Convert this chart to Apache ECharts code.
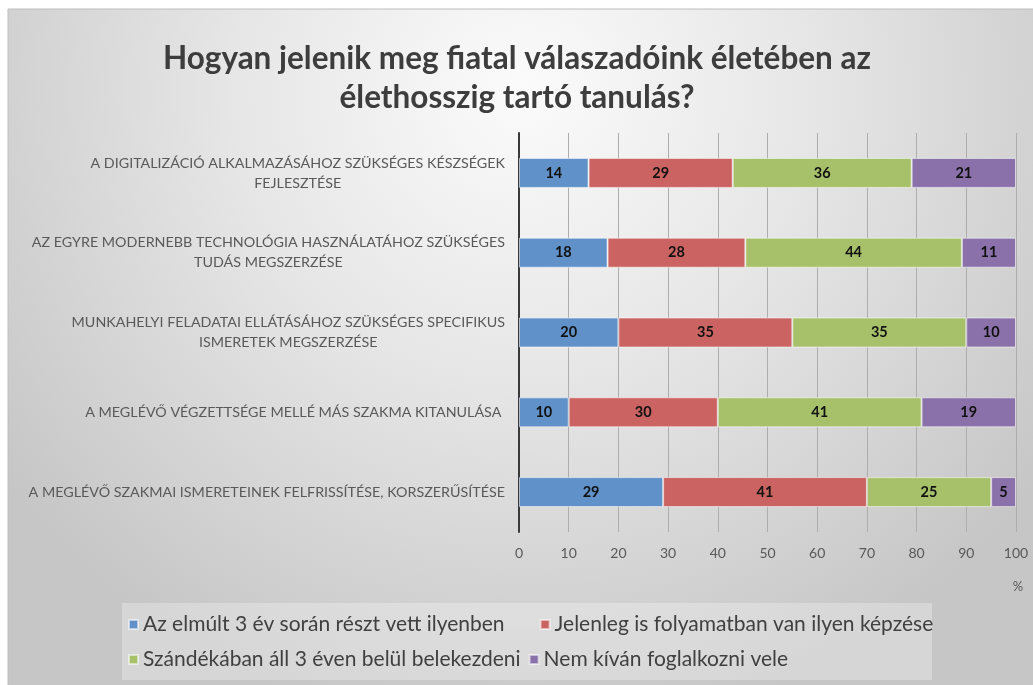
<!DOCTYPE html>
<html>
<head>
<meta charset="utf-8">
<script src="https://cdn.jsdelivr.net/npm/echarts@6/dist/echarts.min.js"></script>
<style>
  html, body { margin: 0; padding: 0; background: #ffffff; }
  #chart { width: 1033px; height: 685px; }
</style>
</head>
<body>
<div id="chart"></div>
<script>
const categories = [
  'A DIGITALIZÁCIÓ ALKALMAZÁSÁHOZ SZÜKSÉGES KÉSZSÉGEK\nFEJLESZTÉSE',
  'AZ EGYRE MODERNEBB TECHNOLÓGIA HASZNÁLATÁHOZ SZÜKSÉGES\nTUDÁS MEGSZERZÉSE',
  'MUNKAHELYI FELADATAI ELLÁTÁSÁHOZ SZÜKSÉGES SPECIFIKUS\nISMERETEK MEGSZERZÉSE',
  'A MEGLÉVŐ VÉGZETTSÉGE MELLÉ MÁS SZAKMA KITANULÁSA ',
  'A MEGLÉVŐ SZAKMAI ISMERETEINEK FELFRISSÍTÉSE, KORSZERŰSÍTÉSE'
];
const seriesNames = [
  'Az elmúlt 3 év során részt vett ilyenben',
  'Jelenleg is folyamatban van ilyen képzése',
  'Szándékában áll 3 éven belül belekezdeni',
  'Nem kíván foglalkozni vele'
];
const participated = [14, 18, 20, 10, 29];
const ongoing      = [29, 28, 35, 30, 41];
const planned      = [36, 44, 35, 41, 25];
const notInterested = [21, 11, 10, 19, 5];
const xTicks = [0, 10, 20, 30, 40, 50, 60, 70, 80, 90, 100];
const titleText = 'Hogyan jelenik meg fiatal válaszadóink életében az\nélethosszig tartó tanulás?';
const axisUnit = '%';

const seriesValues = [participated, ongoing, planned, notInterested];
const colors = ['#6191c9', '#ca6361', '#a6c16a', '#8b71aa'];
const rowTotals = categories.map((_, i) => seriesValues.reduce((s, arr) => s + arr[i], 0));

const FONT = 'Lato, "Open Sans", "Noto Sans", sans-serif';

const chart = echarts.init(document.getElementById('chart'), null, { renderer: 'canvas' });

const series = seriesValues.map((vals, si) => ({
  name: seriesNames[si],
  type: 'bar',
  stack: 'total',
  barWidth: 30,
  itemStyle: { color: colors[si], borderColor: 'rgba(255,255,255,0.55)', borderWidth: 1 },
  label: {
    show: true,
    position: 'inside',
    color: '#111111',
    fontFamily: FONT,
    fontWeight: 'bold',
    fontSize: 14.5,
    formatter: p => String(vals[p.dataIndex])
  },
  data: vals.map((v, i) => v / rowTotals[i] * 100)
}));

const legendText = { fontFamily: FONT, fontSize: 21, color: '#404040' };

chart.setOption({
  animation: false,
  backgroundColor: '#ffffff',
  graphic: [
    {
      type: 'rect', z: -10, silent: true,
      shape: { x: 8, y: 9, width: 1030, height: 680 },
      style: {
        fill: {
          type: 'radial', x: 0.5, y: 0.12, r: 0.95,
          colorStops: [
            { offset: 0, color: '#fbfbfb' },
            { offset: 0.45, color: '#e6e6e6' },
            { offset: 1, color: '#c6c6c6' }
          ]
        },
        stroke: '#bdbdbd', lineWidth: 1
      }
    },
    {
      type: 'rect', z: -5, silent: true,
      shape: { x: 122, y: 603, width: 810, height: 77 },
      style: { fill: 'rgba(255,255,255,0.28)' }
    }
  ],
  title: {
    text: titleText,
    left: 512,
    top: 34,
    textAlign: 'center',
    textStyle: {
      fontFamily: FONT,
      fontWeight: 'bold',
      fontSize: 31.5,
      lineHeight: 39,
      color: '#3d3d3d'
    }
  },
  legend: [
    {
      data: seriesNames.slice(0, 2),
      left: 128, top: 614, padding: 0,
      itemWidth: 9, itemHeight: 9, itemGap: 35,
      icon: 'rect',
      textStyle: legendText
    },
    {
      data: seriesNames.slice(2, 4),
      left: 128, top: 649, padding: 0,
      itemWidth: 9, itemHeight: 9, itemGap: 8,
      icon: 'rect',
      textStyle: legendText
    }
  ],
  grid: { left: 519, right: 17, top: 133, bottom: 153, containLabel: false },
  xAxis: {
    type: 'value',
    min: 0, max: 100, interval: 10,
    name: axisUnit,
    nameLocation: 'end',
    nameGap: 2,
    nameTextStyle: { fontFamily: FONT, fontSize: 13, color: '#595959', align: 'center', verticalAlign: 'top', padding: [48, 0, 0, 0] },
    axisLine: { show: false },
    axisTick: { show: false },
    axisLabel: {
      fontFamily: FONT, fontSize: 14, color: '#595959', margin: 14,
      formatter: v => xTicks.includes(v) ? String(v) : ''
    },
    splitLine: { show: true, lineStyle: { color: '#adadad', width: 1 } }
  },
  yAxis: {
    type: 'category',
    data: categories,
    inverse: true,
    axisLine: { show: true, lineStyle: { color: '#3a3a3a', width: 2 } },
    axisTick: { show: false },
    axisLabel: {
      margin: 14,
      formatter: v => v.split('\n').map(l => '{c|' + l + '}').join('\n'),
      rich: {
        c: { fontFamily: FONT, fontSize: 14.3, color: '#595959', align: 'center', lineHeight: 20 }
      }
    }
  },
  series: series
});
</script>
</body>
</html>
